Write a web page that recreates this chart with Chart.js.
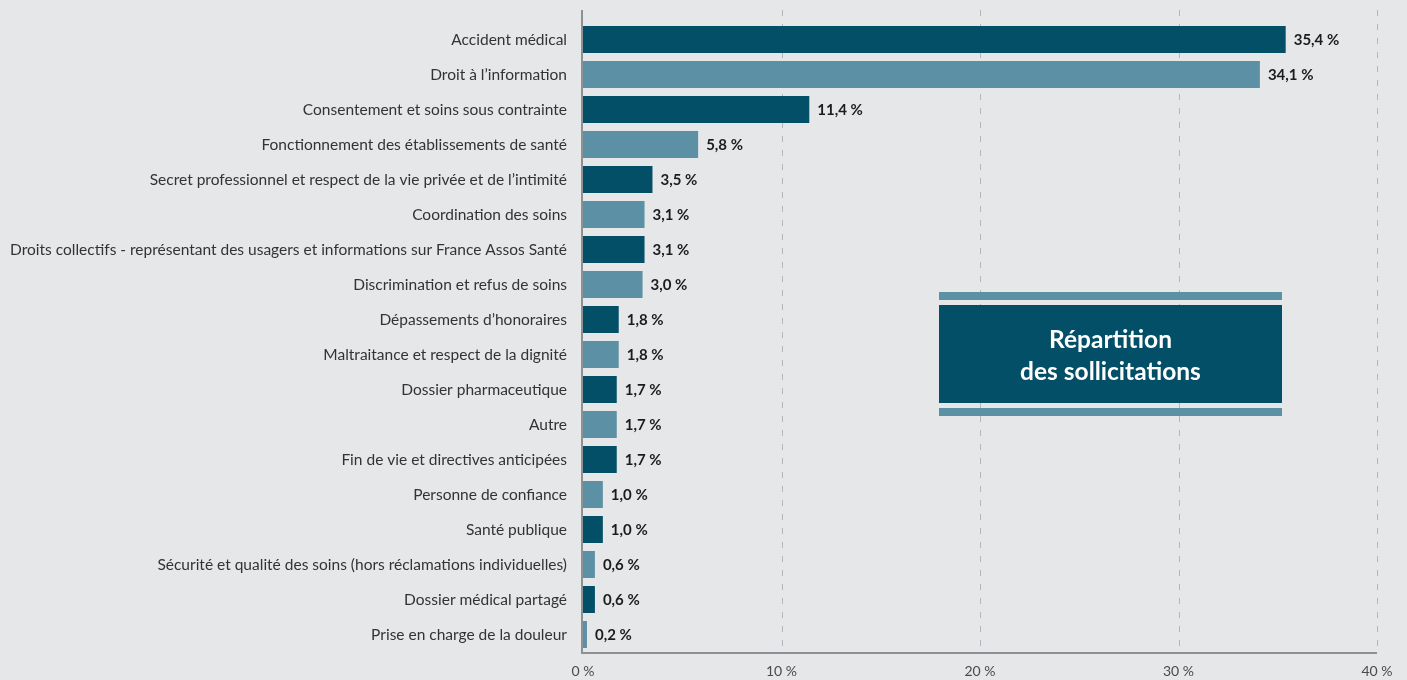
<!DOCTYPE html>
<html lang="fr">
<head>
<meta charset="utf-8">
<title>Répartition des sollicitations</title>
<script src="https://cdn.jsdelivr.net/npm/chart.js@4.4.0/dist/chart.umd.min.js"></script>
<style>
  html, body { margin: 0; padding: 0; background: #e6e7e9; }
  #wrap { width: 1407px; height: 680px; }
</style>
</head>
<body>
<div id="wrap"><canvas id="myChart" width="1407" height="680"></canvas></div>
<script>
// Thèmes des sollicitations (du plus fréquent au moins fréquent)
const categories = [
    "Accident médical",
    "Droit à l’information",
    "Consentement et soins sous contrainte",
    "Fonctionnement des établissements de santé",
    "Secret professionnel et respect de la vie privée et de l’intimité",
    "Coordination des soins",
    "Droits collectifs - représentant des usagers et informations sur France Assos Santé",
    "Discrimination et refus de soins",
    "Dépassements d’honoraires",
    "Maltraitance et respect de la dignité",
    "Dossier pharmaceutique",
    "Autre",
    "Fin de vie et directives anticipées",
    "Personne de confiance",
    "Santé publique",
    "Sécurité et qualité des soins (hors réclamations individuelles)",
    "Dossier médical partagé",
    "Prise en charge de la douleur"
];

// Part de chaque thème, en %
const shares = [35.4, 34.1, 11.4, 5.8, 3.5, 3.1, 3.1, 3.0, 1.8, 1.8, 1.7, 1.7, 1.7, 1.0, 1.0, 0.6, 0.6, 0.2];

const xTicks = [0, 10, 20, 30, 40];
const titleLines = ["Répartition", "des sollicitations"];

const DARK = '#034f67';
const LIGHT = '#5b90a5';
const TEXT = '#333333';

const fmtPct = v => v.toFixed(1).replace('.', ',') + ' %';

// grille pointillée + axes, dessinés sur toute la hauteur
const gridAndAxes = {
    id: 'gridAndAxes',
    beforeDatasetsDraw(chart) {
        const { ctx, chartArea, scales: { x } } = chart;
        const top = chartArea.top - 12;
        ctx.save();
        ctx.strokeStyle = '#b4b7bb';
        ctx.lineWidth = 1;
        ctx.setLineDash([6, 8]);
        xTicks.slice(1).forEach(t => {
            const px = Math.round(x.getPixelForValue(t)) + 0.5;
            ctx.beginPath();
            ctx.moveTo(px, top);
            ctx.lineTo(px, chartArea.bottom);
            ctx.stroke();
        });
        ctx.restore();
    },
    afterDatasetsDraw(chart) {
        const { ctx, chartArea, scales: { x } } = chart;
        const left = x.getPixelForValue(0);
        ctx.save();
        ctx.strokeStyle = '#8d9094';
        ctx.lineWidth = 2;
        ctx.beginPath();
        ctx.moveTo(left - 1, chartArea.top - 12);
        ctx.lineTo(left - 1, chartArea.bottom + 1);
        ctx.lineTo(x.getPixelForValue(40), chartArea.bottom + 1);
        ctx.stroke();
        ctx.restore();
    }
};

// étiquettes de valeur au bout des barres
const valueLabels = {
    id: 'valueLabels',
    afterDatasetsDraw(chart) {
        const { ctx } = chart;
        const meta = chart.getDatasetMeta(0);
        ctx.save();
        ctx.font = 'bold 15px Lato';
        ctx.fillStyle = '#1c1c1c';
        ctx.textAlign = 'left';
        ctx.textBaseline = 'middle';
        meta.data.forEach((bar, i) => {
            ctx.fillText(fmtPct(shares[i]), bar.x + 8, bar.y + 1);
        });
        ctx.restore();
    }
};

// encart titre
const titleBox = {
    id: 'titleBox',
    afterDraw(chart) {
        const { ctx } = chart;
        const x0 = 939, w = 343;
        ctx.save();
        ctx.fillStyle = LIGHT;
        ctx.fillRect(x0, 292, w, 8);
        ctx.fillRect(x0, 408, w, 8);
        ctx.fillStyle = DARK;
        ctx.fillRect(x0, 305, w, 98);
        ctx.fillStyle = '#ffffff';
        ctx.font = 'bold 24.5px Lato';
        ctx.textAlign = 'center';
        ctx.textBaseline = 'middle';
        ctx.fillText(titleLines[0], x0 + w / 2, 340);
        ctx.fillText(titleLines[1], x0 + w / 2, 372);
        ctx.restore();
    }
};

const ctx = document.getElementById('myChart').getContext('2d');
window.chartInstance = new Chart(ctx, {
    type: 'bar',
    data: {
        labels: categories,
        datasets: [{
            data: shares,
            backgroundColor: shares.map((_, i) => i % 2 === 0 ? DARK : LIGHT),
            barPercentage: 0.77,
            categoryPercentage: 1
        }]
    },
    options: {
        indexAxis: 'y',
        responsive: false,
        devicePixelRatio: 1,
        animation: false,
        layout: { padding: { top: 22, right: 30, left: 0, bottom: 0 } },
        plugins: { legend: { display: false }, tooltip: { enabled: false } },
        scales: {
            x: {
                min: 0,
                max: 40,
                afterBuildTicks: scale => { scale.ticks = xTicks.map(v => ({ value: v })); },
                afterFit: scale => { scale.height = 28; },
                grid: { display: false },
                border: { display: false },
                ticks: {
                    callback: v => v + ' %',
                    color: '#4a4a4a',
                    font: { family: 'Lato', size: 14 },
                    padding: 3,
                    maxRotation: 0
                }
            },
            y: {
                afterFit: scale => { scale.width = 583; },
                grid: { display: false },
                border: { display: false },
                ticks: {
                    color: TEXT,
                    font: { family: 'Lato', size: 15.5 },
                    padding: 8,
                    autoSkip: false
                }
            }
        }
    },
    plugins: [gridAndAxes, valueLabels, titleBox]
});
</script>
</body>
</html>
